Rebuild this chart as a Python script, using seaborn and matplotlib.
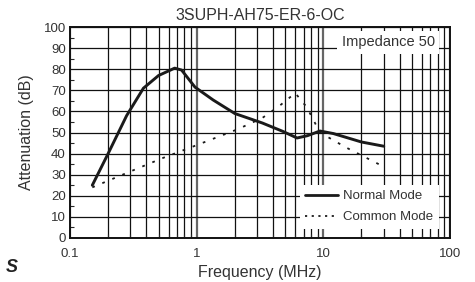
# Attenuation vs frequency chart for 3SUPH-AH75-ER-6-OC

import numpy as np
import pandas as pd
import seaborn as sns
import matplotlib.pyplot as plt
from matplotlib.ticker import LogLocator, MultipleLocator, NullFormatter, FixedLocator

# Values
normal_freq = [0.15, 0.2, 0.28, 0.38, 0.5, 0.67, 0.76, 0.97, 1.35, 2.0, 3.3, 4.8, 6.2, 7.5, 9.4, 12, 20, 30]
normal_db = [25, 40, 58, 71, 77, 80.5, 79.6, 71.5, 65.4, 59, 54.5, 50.5, 47.4, 48.5, 50.7, 49.5, 45.5, 43.5]

common_freq = [0.15, 0.28, 0.54, 1.0, 2.1, 3.3, 4.5, 6.0, 7.4, 9.4, 15, 29.5]
common_db = [24, 30.8, 37.9, 44, 51.5, 56.9, 62.6, 68.7, 62, 50, 43, 34]

series_names = ['Normal Mode', 'Common Mode']
chart_title = '3SUPH-AH75-ER-6-OC'

df = pd.concat([
    pd.DataFrame({'freq': normal_freq, 'db': normal_db, 'mode': series_names[0]}),
    pd.DataFrame({'freq': common_freq, 'db': common_db, 'mode': series_names[1]}),
])

sns.set_style('white')
plt.rcParams['font.family'] = ['Liberation Sans', 'DejaVu Sans']

fig = plt.figure(figsize=(4.75, 2.82), dpi=100)
ax = fig.add_axes([70 / 475, 1 - 238 / 282, 380 / 475, 211 / 282])

sns.lineplot(data=df, x='freq', y='db', hue='mode', style='mode',
             palette=['#1a1a1a', '#1a1a1a'], dashes=[(None, None), (1.5, 4.5)],
             sort=False, ax=ax, legend=False)
ax.lines[0].set_linewidth(2.1)
ax.lines[1].set_linewidth(1.3)

ax.set_xscale('log')
ax.set_xlim(0.1, 100)
ax.set_ylim(0, 100)
ax.xaxis.set_major_locator(FixedLocator([0.1, 1, 10, 100]))
ax.set_xticklabels(['0.1', '1', '10', '100'])
ax.xaxis.set_minor_locator(LogLocator(base=10, subs=np.arange(2, 10)))
ax.xaxis.set_minor_formatter(NullFormatter())
ax.yaxis.set_major_locator(MultipleLocator(10))
ax.yaxis.set_minor_locator(MultipleLocator(5))

ax.grid(which='major', axis='y', color='#111111', lw=0.9)
ax.grid(which='major', axis='x', color='#666666', lw=1.6)
ax.grid(which='minor', axis='x', color='#111111', lw=0.9)
ax.tick_params(which='major', length=0, labelsize=9.5, pad=3, colors='#333333')
ax.tick_params(axis='x', which='major', pad=7)
ax.tick_params(which='minor', direction='in', length=3, width=0.8, left=True, bottom=True, top=False, right=False)
for s in ax.spines.values():
    s.set_linewidth(1.4)
    s.set_color('#111111')

ax.set_xlabel('Frequency (MHz)', fontsize=11.5, color='#333333', labelpad=4)
ax.set_ylabel('Attenuation (dB)', fontsize=11.5, color='#333333', labelpad=7)
ax.set_title(chart_title, fontsize=11.5, color='#333333', pad=5)

# White box behind the impedance note
ax.text(0.96, 0.96, 'Impedance 50', transform=ax.transAxes, ha='right', va='top',
        fontsize=10.5, color='#333333',
        bbox=dict(boxstyle='square,pad=0.3', fc='white', ec='none'))

handles = [plt.Line2D([], [], color='#1a1a1a', lw=2), plt.Line2D([], [], color='#1a1a1a', lw=1.3, ls=(0, (1.2, 2.5)))]
leg = ax.legend(handles, series_names, loc='lower right', bbox_to_anchor=(0.97, 0.045),
                fontsize=9.5, frameon=True, fancybox=False, handlelength=2.5,
                handletextpad=0.4, labelspacing=0.65, borderpad=0.4, borderaxespad=0)
leg.get_frame().set_facecolor('white')
leg.get_frame().set_edgecolor('none')
leg.get_frame().set_alpha(1)
for t in leg.get_texts():
    t.set_color('#333333')

fig.text(0.012, 0.035, 'S', fontsize=13, style='italic', weight='bold', color='#222222')

fig.savefig('out.png', dpi=100)
